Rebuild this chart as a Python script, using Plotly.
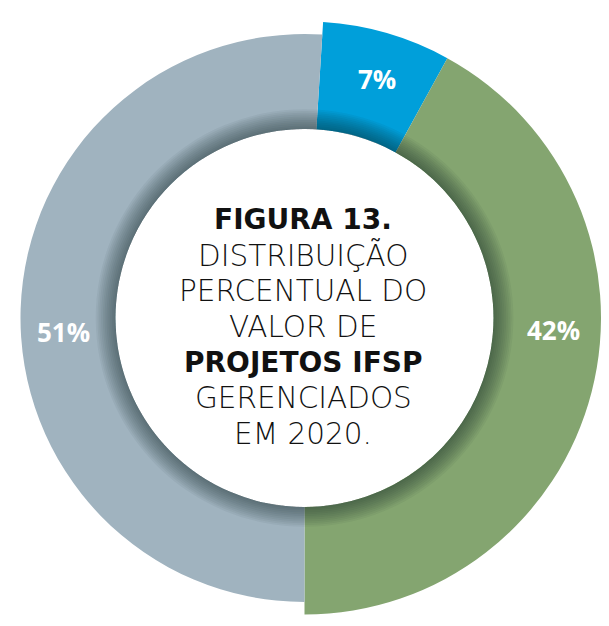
import plotly.graph_objects as go

# ---- data ----
categories = ["Azul", "Verde", "Cinza"]
values = [7, 42, 51]
value_labels = ["7%", "42%", "51%"]
center_lines = ["<b>FIGURA 13.</b>", "DISTRIBUIÇÃO", "PERCENTUAL DO", "VALOR DE",
                "<b>PROJETOS IFSP</b>", "GERENCIADOS", "EM 2020."]

# ---- style ----
colors = ["#009FDA", "#84A570", "#A0B3BF"]
PAGE_W, PAGE_H = 609, 626
OFF = 8                           # default body margin of the html page
W, H = PAGE_W - 2 * OFF, PAGE_H - 2 * OFF
CX, CY = 304.5 - OFF, 318.0 - OFF  # centre of the ring in figure pixels
R_BIG, R_GRAY, R_HOLE = 296.5, 284.0, 189.0
LABEL_FONT = "Open Sans"
TEXT_FONT = "DejaVu Sans"


def dom(r):
    return dict(x=[max(0, (CX - r) / W), min(1, (CX + r) / W)],
                y=[max(0, (H - CY - r) / H), min(1, (H - CY + r) / H)])


def paper(px, py):
    return (px - OFF) / W, (H - (py - OFF)) / H


# first slice (blue) starts where the gray slice ends; gray ends at 6 o'clock
rotation = values[2] / sum(values) * 360 - 180

fig = go.Figure()
# outer ring: blue and green (gray transparent)
fig.add_trace(go.Pie(
    labels=categories, values=values, sort=False, direction="clockwise",
    rotation=rotation, hole=R_HOLE / R_BIG, domain=dom(R_BIG),
    marker=dict(colors=[colors[0], colors[1], "rgba(0,0,0,0)"], line=dict(width=0)),
    textinfo="none", hoverinfo="label+percent", showlegend=False))
# gray ring with a smaller radius
fig.add_trace(go.Pie(
    labels=categories, values=values, sort=False, direction="clockwise",
    rotation=rotation, hole=R_HOLE / R_GRAY, domain=dom(R_GRAY),
    marker=dict(colors=["rgba(0,0,0,0)", "rgba(0,0,0,0)", colors[2]], line=dict(width=0)),
    textinfo="none", hoverinfo="label+percent", showlegend=False))
# soft shadow around the central white disc
for i in range(1, 12):
    r = R_HOLE + 1.8 * i
    fig.add_trace(go.Pie(
        values=[1], sort=False, hole=R_HOLE / r, domain=dom(r),
        marker=dict(colors=["rgba(20,30,30,0.05)"], line=dict(width=0)),
        textinfo="none", hoverinfo="skip", showlegend=False))

label_pos = [(377, 79), (553, 330), (63, 332)]
for txt, (px, py) in zip(value_labels, label_pos):
    x, y = paper(px, py)
    fig.add_annotation(x=x, y=y, xref="paper", yref="paper",
                       text="<b>" + txt + "</b>", showarrow=False,
                       xanchor="center", yanchor="middle",
                       font=dict(family=LABEL_FONT, size=26, color="white"))

# central title, one annotation per line
FIRST_Y, STEP = 219.5, 35.7
for i, line in enumerate(center_lines):
    x, y = paper(303, FIRST_Y + i * STEP)
    bold = line.startswith("<b>")
    fig.add_annotation(x=x, y=y, xref="paper", yref="paper",
                       text=line, showarrow=False,
                       xanchor="center", yanchor="middle", align="center",
                       font=dict(family=TEXT_FONT, size=28 if bold else 29.5,
                                 color="#111111", weight=200))

fig.update_layout(width=W, height=H, margin=dict(l=0, r=0, t=0, b=0),
                  paper_bgcolor="white", plot_bgcolor="white", showlegend=False)
fig.write_html("out.html")
